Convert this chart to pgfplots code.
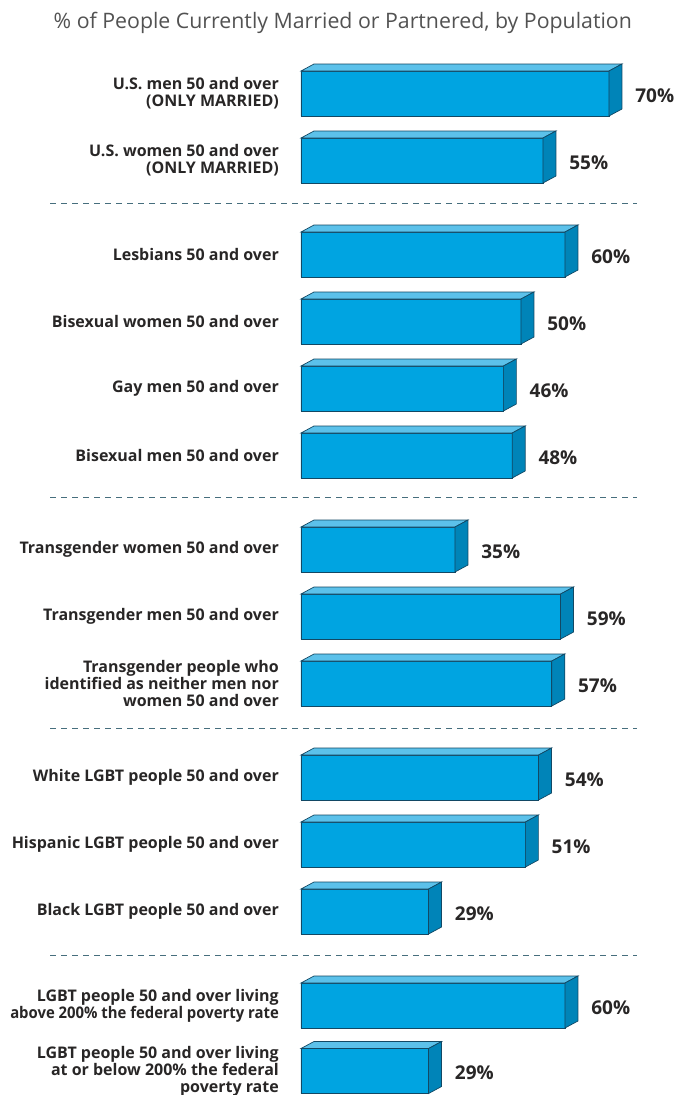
\documentclass[border=0pt]{standalone}
\usepackage{pgfplots}
\usepackage{pgfplotstable}
\usepackage{graphicx}
\usepackage{fontspec}
\setmainfont{Open Sans}
\pgfplotsset{compat=1.18}

\definecolor{front}{RGB}{0,164,225}
\definecolor{topc}{RGB}{92,193,234}
\definecolor{side}{RGB}{0,132,184}
\definecolor{edge}{RGB}{18,72,100}
\definecolor{txt}{RGB}{40,38,38}
\definecolor{sep}{RGB}{70,110,125}

% pos = bar centre (px from top), val = percent
\pgfplotstableread{
pos val
93.5 70
160.5 55
254.5 60
321.5 50
388.5 46
455.5 48
549.5 35
616.5 59
683.5 57
777.5 54
844.5 51
911.5 29
1005.5 60
1071 29
}\data

\begin{document}
\begin{tikzpicture}
\begin{axis}[
  scale only axis,
  width=352pt, height=1095pt,
  xmin=0, xmax=80, ymin=0, ymax=1095,
  y dir=reverse,
  axis line style={draw=none},
  tick style={draw=none},
  xtick=\empty,
  ytick=data,
  /pgf/number format/assume math mode=true,
  yticklabels={
    {U.S. men 50 and over\\(ONLY MARRIED)},
    {U.S. women 50 and over\\(ONLY MARRIED)},
    {Lesbians 50 and over},
    {Bisexual women 50 and over},
    {Gay men 50 and over},
    {Bisexual men 50 and over},
    {Transgender women 50 and over},
    {Transgender men 50 and over},
    {Transgender people who\\identified as neither men nor\\women 50 and over},
    {White LGBT people 50 and over},
    {Hispanic LGBT people 50 and over},
    {Black LGBT people 50 and over},
    {LGBT people 50 and over living\\\scalebox{0.93}[1]{above 200\% the federal poverty rate}},
    {LGBT people 50 and over living\\at or below 200\% the federal\\poverty rate}},
  yticklabel style={font=\fontsize{16}{17}\selectfont\bfseries, text=txt,
    align=right, inner sep=0pt, xshift=-22pt},
  clip=false,
]
\addplot[xbar, bar width=45, fill=front, draw=edge, line width=0.7pt,
  nodes near coords={\pgfmathprintnumber{\pgfplotspointmeta}\%},
  point meta=x,
  nodes near coords style={font=\fontsize{19}{20}\selectfont\bfseries,
    text=txt, anchor=west, inner sep=0pt, xshift=26pt, yshift=-2pt}]
  table[x=val, y=pos] {\data};

\pgfplotsinvokeforeach{0,...,13}{
  \pgfplotstablegetelem{#1}{pos}\of{\data}\edef\p{\pgfplotsretval}
  \pgfplotstablegetelem{#1}{val}\of{\data}\edef\v{\pgfplotsretval}
  \pgfmathsetmacro\ya{\p-22.5}
  \pgfmathsetmacro\yb{\p-29.5}
  \pgfmathsetmacro\yc{\p+15.5}
  \pgfmathsetmacro\yd{\p+22.5}
  \pgfmathsetmacro\xa{\v+2.95}
  \addplot[fill=topc, draw=edge, line width=0.7pt]
    coordinates {(0,\ya) (\v,\ya) (\xa,\yb) (2.95,\yb)} -- cycle;
  \addplot[fill=side, draw=edge, line width=0.7pt]
    coordinates {(\v,\ya) (\xa,\yb) (\xa,\yc) (\v,\yd)} -- cycle;
}

\pgfplotsinvokeforeach{203,497,728,955}{
  \addplot[sep, line width=0.9pt, dash pattern=on 6pt off 5pt]
    coordinates {(-57,#1) (76.4,#1)};
}

\node[anchor=base, text=black!68, font=\fontsize{21.3}{24}\selectfont]
  at (axis cs:9.5,28) {\% of People Currently Married or Partnered, by Population};

\coordinate (nw) at (axis cs:-68.41,0);
\coordinate (se) at (axis cs:88.41,1095);
\end{axis}
\pgfresetboundingbox
\useasboundingbox (nw) rectangle (se);
\end{tikzpicture}
\end{document}
